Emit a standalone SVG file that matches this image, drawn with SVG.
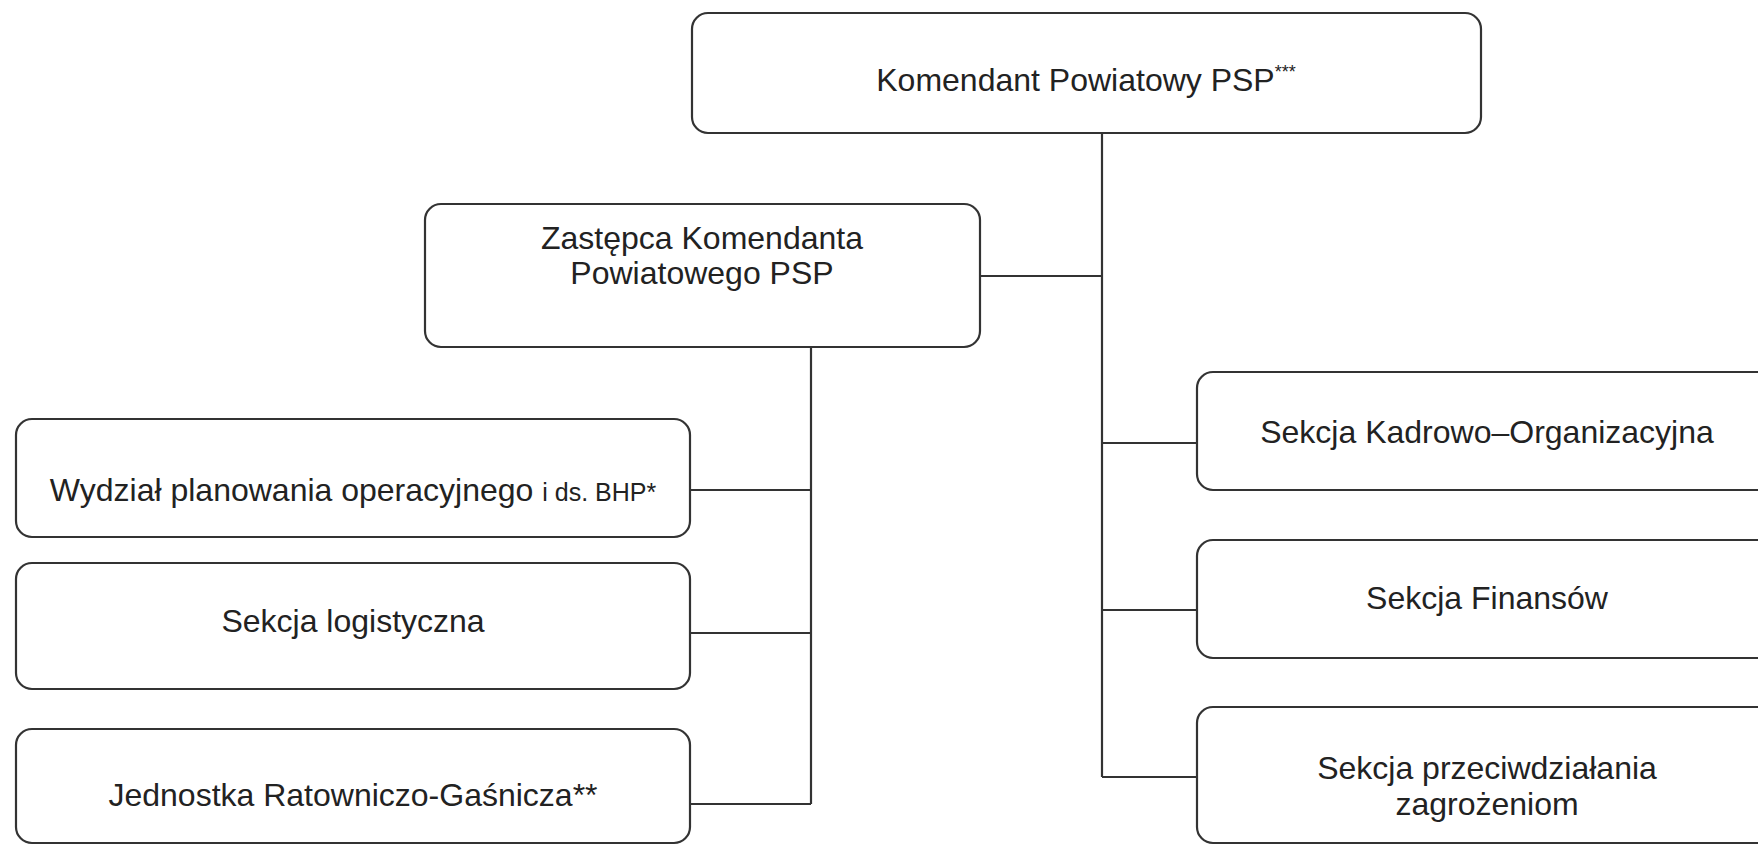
<svg xmlns="http://www.w3.org/2000/svg" width="1758" height="846" viewBox="0 0 1758 846">
<style>
.box{fill:#fff;stroke:#333;stroke-width:2.2}
.t{font-family:"Liberation Sans",Arial,sans-serif;font-size:32px;fill:#222;text-anchor:middle}
.c{fill:none;stroke:#333;stroke-width:2.2}
</style>
<rect x="0" y="0" width="1758" height="846" fill="#fff"/>
<g id="connectors">
<path class="c" d="M1102,133 V777"/>
<path class="c" d="M980,276 H1102"/>
<path class="c" d="M1102,443 H1197 M1102,610 H1197 M1102,777 H1197"/>
<path class="c" d="M811,347 V804"/>
<path class="c" d="M690,490 H811 M690,633 H811 M690,804 H811"/>
</g>
<g id="komendant">
<rect class="box" x="692" y="13" width="789" height="120" rx="16"/>
<text class="t" x="1086" y="91">Komendant Powiatowy PSP<tspan font-size="18" dy="-13">***</tspan></text>
</g>
<g id="zastepca">
<rect class="box" x="425" y="204" width="555" height="143" rx="16"/>
<text class="t" x="702" y="249">Zastępca Komendanta</text>
<text class="t" x="702" y="284">Powiatowego PSP</text>
</g>
<g id="wydzial">
<rect class="box" x="16" y="419" width="674" height="118" rx="16"/>
<text class="t" x="353" y="501">Wydział planowania operacyjnego <tspan font-size="25">i ds. BHP*</tspan></text>
</g>
<g id="logistyczna">
<rect class="box" x="16" y="563" width="674" height="126" rx="16"/>
<text class="t" x="353" y="632">Sekcja logistyczna</text>
</g>
<g id="jrg">
<rect class="box" x="16" y="729" width="674" height="114" rx="16"/>
<text class="t" x="353" y="806">Jednostka Ratowniczo-Gaśnicza**</text>
</g>
<g id="kadrowo">
<rect class="box" x="1197" y="372" width="580" height="118" rx="16"/>
<text class="t" x="1487" y="443">Sekcja Kadrowo–Organizacyjna</text>
</g>
<g id="finansow">
<rect class="box" x="1197" y="540" width="580" height="118" rx="16"/>
<text class="t" x="1487" y="609">Sekcja Finansów</text>
</g>
<g id="przeciwdzialania">
<rect class="box" x="1197" y="707" width="580" height="136" rx="16"/>
<text class="t" x="1487" y="779">Sekcja przeciwdziałania</text>
<text class="t" x="1487" y="815">zagrożeniom</text>
</g>
</svg>
